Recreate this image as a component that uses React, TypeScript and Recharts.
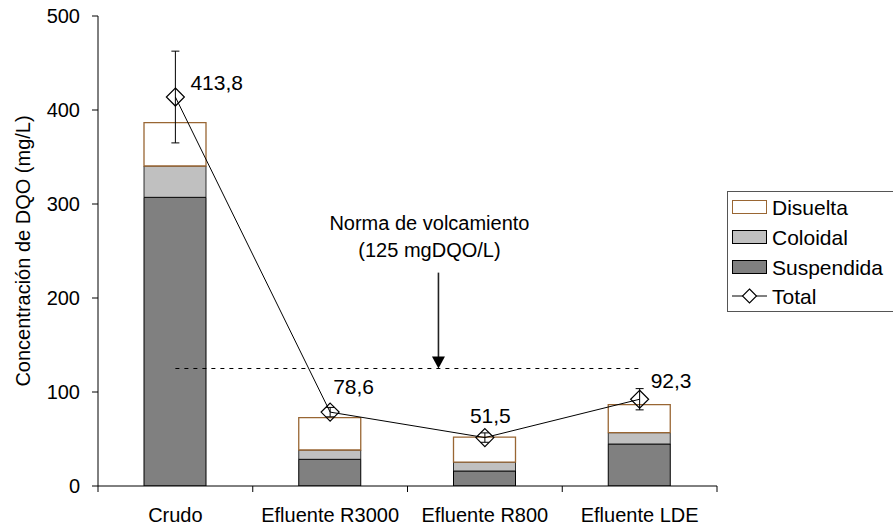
import React from 'react';
import {
  ComposedChart,
  Bar,
  Line,
  XAxis,
  YAxis,
  ErrorBar,
  ReferenceLine,
  LabelList,
  Label,
} from 'recharts';

// ---- data ----
const categories = ['Crudo', 'Efluente R3000', 'Efluente R800', 'Efluente LDE'];
const suspendida = [307.1, 28.4, 16.0, 44.7];
const coloidal = [33.3, 9.9, 9.5, 12.0];
const disuelta = [46.1, 34.4, 26.6, 29.8];
const total = [413.8, 78.6, 51.5, 92.3];
const totalError = [48.8, 5, 5, 11.3];
const yTicks = [0, 100, 200, 300, 400, 500];
const normaValue = 125;
const normaText = ['Norma de volcamiento', '(125 mgDQO/L)'];
const seriesNames = ['Disuelta', 'Coloidal', 'Suspendida', 'Total'];

const data = categories.map((name, i) => ({
  name,
  suspendida: suspendida[i],
  coloidal: coloidal[i],
  disuelta: disuelta[i],
  total: total[i],
  err: totalError[i],
}));

// ---- style ----
const FONT = '"Liberation Sans", Arial, Helvetica, sans-serif';
const W = 893;
const H = 528;
const MARGIN = { top: 16, right: 176, left: 0, bottom: 0 };
const Y_AXIS_W = 98;
const X_AXIS_H = 42;
const BROWN = '#996633';
const DARK = '#808080';
const LIGHT = '#c0c0c0';
// label nudges (dx to label start, dy to label centre) per point
const LABEL_NUDGE = [
  [15, -15],
  [3, -26],
  [-15, -22],
  [11, -19],
];
const ARROW_FRACTION = 0.7; // arrow sits this far from R3000 toward R800
const ARROW_TOP = 227;

const fmt = (v: number) => v.toFixed(1).replace('.', ',');

const Diamond = (props: any) => {
  const { cx, cy } = props;
  if (cx == null || cy == null) return null;
  const r = 9;
  return (
    <path
      d={`M${cx},${cy - r}L${cx + r},${cy}L${cx},${cy + r}L${cx - r},${cy}Z`}
      fill="none"
      stroke="#000"
      strokeWidth={1.2}
    />
  );
};

const XTick = (props: any) => {
  const { x, y, payload, index, visibleTicksCount, width } = props;
  const band =
    payload && payload.offset ? payload.offset * 2 : (width || 619) / (visibleTicksCount || 4);
  const half = band / 2;
  return (
    <g>
      <line x1={x - half} y1={y} x2={x - half} y2={y + 6} stroke="#000" strokeWidth={1} />
      {index === visibleTicksCount - 1 ? (
        <line x1={x + half} y1={y} x2={x + half} y2={y + 6} stroke="#000" strokeWidth={1} />
      ) : null}
      <text x={x} y={y + 36} textAnchor="middle" fontSize={20} fontFamily={FONT} fill="#000">
        {payload.value}
      </text>
    </g>
  );
};

const TotalLabel = (props: any) => {
  const { x, y, value, index } = props;
  const [dx, dy] = LABEL_NUDGE[index] || [10, -15];
  return (
    <text x={x + dx} y={y + dy + 7.5} fontSize={21} fontFamily={FONT} fill="#000">
      {fmt(Number(value))}
    </text>
  );
};

const ArrowShape = (props: any) => {
  const { x1, y1, x2, y2 } = props;
  if (x1 == null || x2 == null) return null;
  const ax = x1 + (x2 - x1) * ARROW_FRACTION;
  const top = Math.min(y1, y2);
  const tip = Math.max(y1, y2);
  return (
    <g>
      <line x1={ax} y1={top} x2={ax} y2={tip - 11} stroke="#222" strokeWidth={1.6} />
      <path d={`M${ax - 6.5},${tip - 12}L${ax + 6.5},${tip - 12}L${ax},${tip}Z`} fill="#000" />
      <text x={ax - 9} y={top - 50 + 7} textAnchor="middle" fontSize={20} fontFamily={FONT} fill="#000">
        {normaText[0]}
      </text>
      <text x={ax - 9} y={top - 23 + 7} textAnchor="middle" fontSize={20} fontFamily={FONT} fill="#000">
        {normaText[1]}
      </text>
    </g>
  );
};

const YTitle = (props: any) => {
  const vb = props.viewBox || { x: 0, y: 16, width: 98, height: 470 };
  const cx = vb.x + 23;
  const cy = vb.y + vb.height / 2;
  return (
    <text
      x={cx}
      y={cy}
      transform={`rotate(-90 ${cx} ${cy})`}
      textAnchor="middle"
      dominantBaseline="central"
      fontSize={20}
      fontFamily={FONT}
      fill="#000"
    >
      Concentración de DQO (mg/L)
    </text>
  );
};

const LegendBox = () => {
  const rows = [
    { name: seriesNames[0], fill: '#fff', stroke: BROWN },
    { name: seriesNames[1], fill: LIGHT, stroke: '#000' },
    { name: seriesNames[2], fill: DARK, stroke: '#000' },
  ];
  const rowY = [16, 46, 76, 105];
  return (
    <svg
      width={170}
      height={122}
      style={{ position: 'absolute', left: 727, top: 191, overflow: 'visible' }}
    >
      <rect x={0.5} y={0.5} width={180} height={120} fill="#fff" stroke="#555" strokeWidth={1} />
      {rows.map((r, i) => (
        <g key={r.name}>
          <rect x={5.5} y={rowY[i] - 6.5} width={34} height={13} fill={r.fill} stroke={r.stroke} strokeWidth={1} />
          <text x={45} y={rowY[i] + 7.5} fontSize={21} fontFamily={FONT} fill="#000">
            {r.name}
          </text>
        </g>
      ))}
      <line x1={5} y1={rowY[3]} x2={40} y2={rowY[3]} stroke="#000" strokeWidth={1} />
      <path
        d={`M22.5,${rowY[3] - 7}L29.5,${rowY[3]}L22.5,${rowY[3] + 7}L15.5,${rowY[3]}Z`}
        fill="#fff"
        stroke="#000"
        strokeWidth={1.1}
      />
      <text x={45} y={rowY[3] + 7.5} fontSize={21} fontFamily={FONT} fill="#000">
        {seriesNames[3]}
      </text>
    </svg>
  );
};

export default function App() {
  return (
    <div style={{ position: 'absolute', left: 0, top: 0, width: W, height: H, background: '#fff', overflow: 'hidden' }}>
      <ComposedChart width={W} height={H} data={data} margin={MARGIN}>
        <XAxis
          dataKey="name"
          type="category"
          height={X_AXIS_H}
          tickLine={false}
          tickSize={0}
          tickMargin={0}
          axisLine={{ stroke: '#000', strokeWidth: 1 }}
          tick={<XTick />}
          interval={0}
        />
        <XAxis
          xAxisId="top"
          dataKey="name"
          type="category"
          orientation="top"
          height={0}
          tick={false}
          tickLine={false}
          axisLine={{ stroke: '#000', strokeWidth: 1 }}
        />
        <YAxis
          type="number"
          domain={[0, 500]}
          ticks={yTicks}
          width={Y_AXIS_W}
          tickSize={6}
          tickMargin={12}
          tickLine={{ stroke: '#000' }}
          axisLine={{ stroke: '#000', strokeWidth: 1 }}
          tick={{ fontSize: 20, fontFamily: FONT, fill: '#000' }}
          allowDataOverflow
        >
          <Label content={<YTitle />} />
        </YAxis>
        <YAxis
          yAxisId="right"
          orientation="right"
          type="number"
          domain={[0, 500]}
          width={0}
          tick={false}
          tickLine={false}
          axisLine={{ stroke: '#000', strokeWidth: 1 }}
        />
        <Bar dataKey="suspendida" stackId="a" barSize={62} fill={DARK} stroke="#000" strokeWidth={1} isAnimationActive={false} />
        <Bar dataKey="coloidal" stackId="a" barSize={62} fill={LIGHT} stroke="#000" strokeWidth={0.8} isAnimationActive={false} />
        <Bar dataKey="disuelta" stackId="a" barSize={62} fill="#fff" stroke={BROWN} strokeWidth={1.3} isAnimationActive={false} />
        <ReferenceLine
          segment={[
            { x: categories[0], y: normaValue },
            { x: categories[3], y: normaValue },
          ]}
          stroke="#000"
          strokeWidth={1}
          strokeDasharray="4 5"
          ifOverflow="visible"
        />
        <ReferenceLine
          segment={[
            { x: categories[1], y: ARROW_TOP },
            { x: categories[2], y: normaValue },
          ]}
          shape={<ArrowShape />}
          ifOverflow="visible"
        />
        <Line
          dataKey="total"
          stroke="#000"
          strokeWidth={1}
          dot={<Diamond />}
          activeDot={false}
          isAnimationActive={false}
        >
          <ErrorBar dataKey="err" direction="y" width={4} stroke="#000" strokeWidth={1} />
          <LabelList dataKey="total" content={<TotalLabel />} />
        </Line>
      </ComposedChart>
      <LegendBox />
    </div>
  );
}
